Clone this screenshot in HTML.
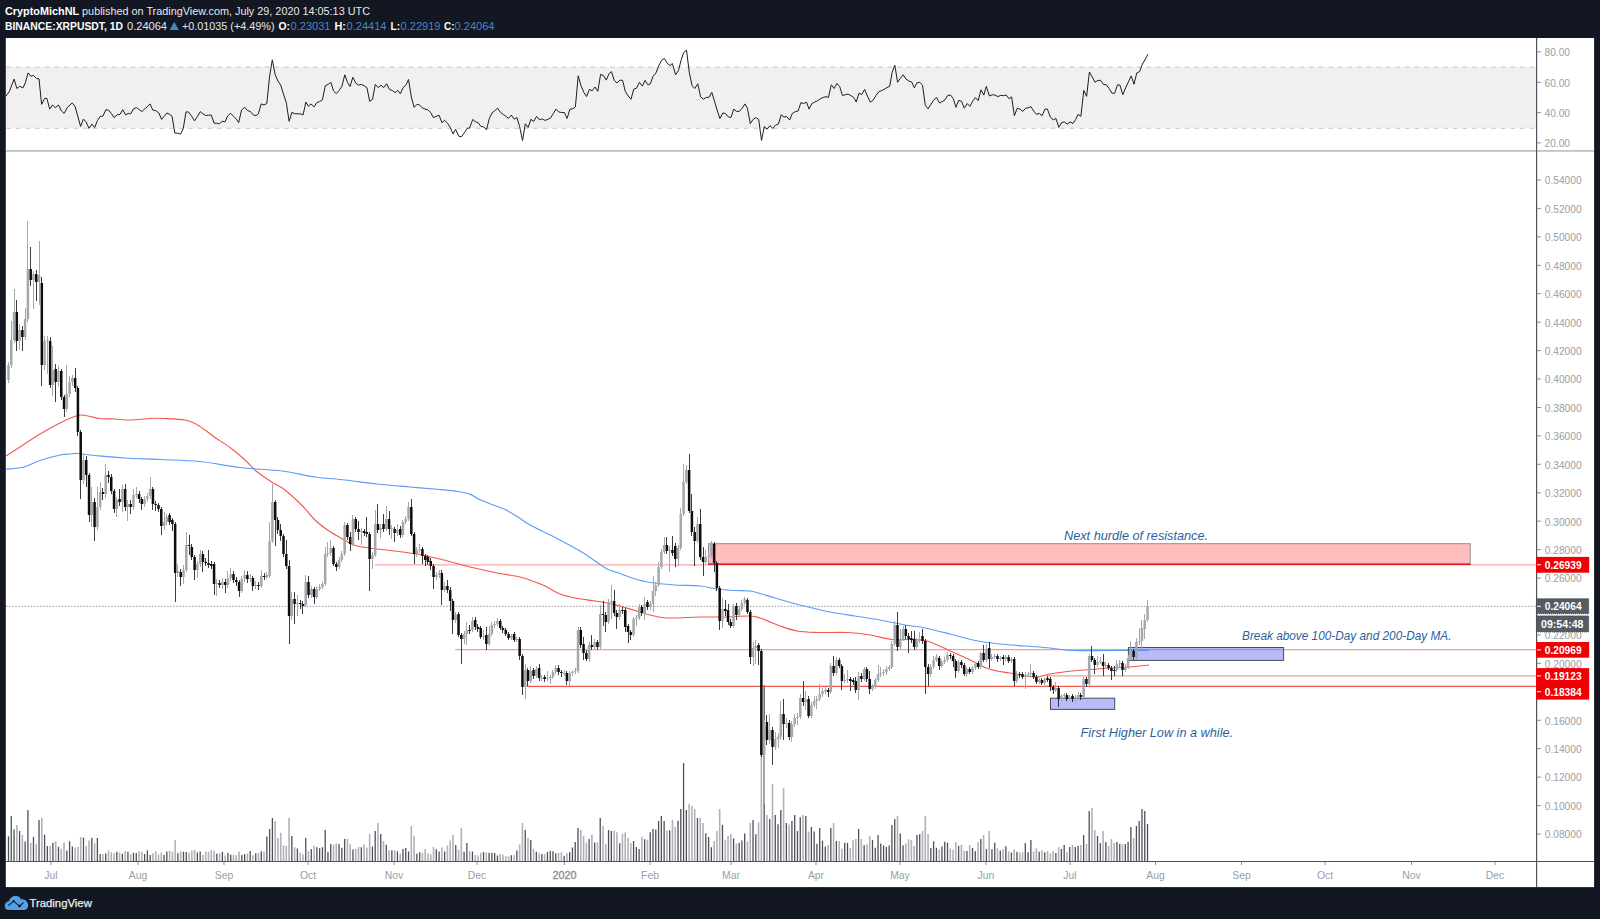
<!DOCTYPE html>
<html><head><meta charset="utf-8"><title>XRPUSDT</title><style>html,body{margin:0;padding:0;background:#131722;width:1600px;height:919px;overflow:hidden}</style></head><body><svg width="1600" height="919" viewBox="0 0 1600 919" style="position:absolute;left:0;top:0">
<rect x="0" y="0" width="1600" height="919" fill="#131722"/>
<rect x="5.8" y="38" width="1588.3" height="849.1" fill="#fff"/>
<rect x="6" y="67" width="1530" height="61.3" fill="#f0f0f3"/>
<path d="M6 67H1536M6 128.3H1536" stroke="#c3c4c9" stroke-width="1" stroke-dasharray="4.3 5.28" stroke-dashoffset="-0.5" fill="none"/>
<path d="M6.0 96.0L9.4 91.3L14.1 79.1L16.9 88.5L19.7 86.3L22.9 87.9L25.3 82.9L28.1 72.9L30.9 76.3L33.4 75.4L36.6 78.6L39.0 78.8L41.6 104.4L44.6 98.4L46.9 98.4L49.7 109.1L52.5 105.0L55.3 107.6L58.5 105.0L61.5 111.0L64.1 113.4L67.5 107.3L72.2 102.9L75.0 106.3L80.6 126.4L83.4 119.1L85.9 121.7L89.1 128.4L91.9 124.1L94.7 127.5L97.5 120.4L100.3 116.3L102.8 116.3L105.9 109.7L108.8 110.4L111.6 113.8L114.0 117.6L117.2 114.8L120.0 114.4L122.8 109.7L125.6 114.8L128.4 113.4L130.7 113.8L133.5 108.8L136.5 107.6L139.1 109.5L141.9 111.6L144.8 108.8L147.2 106.9L150.0 103.9L152.8 110.1L155.6 110.6L158.8 112.9L161.6 119.4L164.1 116.3L166.9 112.9L169.7 114.4L172.1 116.3L174.8 133.1L177.8 133.1L180.4 134.3L183.2 128.8L186.0 111.9L188.4 111.9L191.3 115.7L194.6 120.9L197.3 116.6L200.3 111.6L202.9 113.8L205.7 115.5L208.5 115.1L211.3 115.1L214.1 123.2L216.6 123.2L219.4 123.8L222.2 121.3L225.0 121.9L227.8 115.7L230.6 113.3L233.4 116.3L235.9 118.5L238.7 122.6L241.5 110.1L244.7 107.3L247.5 110.6L250.3 111.4L253.1 114.8L255.9 115.7L258.4 113.8L261.2 103.9L264.0 105.0L266.8 103.5L269.6 76.3L272.3 59.8L275.1 74.4L277.9 81.0L280.7 85.1L283.5 94.1L286.3 102.6L289.1 121.3L291.9 112.3L294.8 113.8L300.3 113.8L303.1 114.8L305.9 102.0L308.4 106.3L311.0 103.9L314.0 106.9L316.8 102.6L319.6 101.6L322.4 99.8L325.3 85.7L328.1 84.4L330.9 82.3L333.5 90.9L336.3 93.6L339.1 90.4L341.9 86.3L344.8 74.8L347.6 82.5L350.0 86.6L352.8 77.3L355.6 82.9L358.4 85.1L361.3 84.4L364.1 85.7L366.9 87.6L369.7 101.3L372.5 99.4L375.3 84.4L378.1 87.6L380.9 85.3L383.8 87.6L386.6 83.8L389.4 89.4L392.2 90.4L395.0 92.6L397.8 90.4L400.3 93.8L403.1 87.6L405.9 85.1L408.5 79.5L411.3 96.9L414.1 107.3L416.9 104.4L419.4 104.8L422.2 107.8L425.0 109.1L427.8 109.7L430.6 112.5L433.4 117.6L436.3 116.3L439.1 115.3L441.9 122.6L444.7 120.4L447.5 123.2L450.3 127.5L453.1 134.1L455.6 129.2L458.8 136.3L461.6 136.7L464.4 132.6L467.2 128.3L469.6 127.9L472.8 119.4L475.6 121.9L478.1 122.6L480.9 126.4L483.7 126.9L486.5 129.8L489.3 118.5L492.1 112.9L494.9 110.6L497.6 108.2L500.4 112.3L503.2 114.4L505.6 116.1L508.4 118.5L511.3 115.1L514.1 119.1L516.9 117.6L519.7 126.9L522.5 140.6L525.3 123.8L528.1 127.5L530.9 119.4L533.8 121.3L536.6 116.3L539.4 119.8L542.2 118.9L545.0 120.4L547.8 119.4L550.6 117.9L553.4 113.4L555.9 109.1L558.7 111.9L561.5 112.5L564.3 112.5L567.1 118.5L569.9 109.1L572.8 108.8L575.4 106.9L578.2 75.8L581.0 85.7L583.8 92.3L586.6 96.6L589.4 89.4L592.2 90.8L595.0 87.0L597.8 91.3L600.6 74.4L603.4 75.4L606.3 80.1L609.1 73.5L611.5 71.6L614.3 80.6L617.1 82.9L619.9 80.1L622.6 80.4L625.4 91.7L628.2 96.0L631.0 99.2L633.8 89.1L636.6 88.1L639.4 82.3L642.3 86.1L645.1 80.4L647.9 84.8L650.3 83.8L653.1 76.3L655.9 73.1L658.8 65.6L661.6 60.4L664.4 58.5L667.2 63.2L670.0 65.6L672.4 63.6L675.6 74.8L678.4 70.7L681.3 59.4L683.7 52.5L686.5 50.1L689.3 72.6L692.1 85.7L694.9 88.5L697.8 83.8L700.6 96.9L703.4 99.2L706.2 97.5L709.0 97.3L711.8 92.3L714.6 101.6L717.4 111.0L719.9 118.5L722.9 112.9L725.7 113.8L728.5 117.0L730.9 117.6L733.8 109.1L736.6 111.4L739.4 111.4L742.2 108.2L745.0 103.9L747.4 108.2L750.3 123.6L753.1 119.4L755.9 117.6L758.7 119.4L761.5 140.4L764.3 126.6L767.1 129.2L769.9 125.6L772.8 128.4L775.6 125.1L778.4 124.1L781.2 114.8L784.0 117.0L786.8 116.6L789.6 120.0L792.4 113.4L795.3 111.6L798.1 111.0L800.9 102.6L803.7 103.5L806.5 102.2L809.1 109.1L811.9 103.5L814.8 102.0L817.6 100.7L820.4 98.8L823.2 97.5L826.0 96.6L828.4 97.5L831.3 84.8L834.1 88.5L836.9 83.4L839.7 86.6L842.5 95.6L845.3 94.7L848.1 94.1L850.9 95.6L853.8 97.5L856.2 102.0L859.0 93.2L861.8 94.5L864.6 89.4L867.4 96.0L870.3 102.2L873.1 100.3L875.9 95.6L878.7 91.9L881.3 90.8L884.1 89.4L886.9 87.6L889.7 86.3L892.1 72.6L894.8 65.1L897.6 82.3L900.4 78.2L903.2 74.8L906.0 79.1L908.8 81.0L911.6 81.9L914.4 87.9L916.9 82.9L919.7 82.3L922.5 85.1L925.3 105.4L928.1 108.8L930.9 104.4L933.8 99.8L936.6 97.5L939.4 102.9L942.2 101.6L945.0 99.8L947.8 95.4L950.6 95.1L953.4 98.8L955.9 107.3L958.7 100.3L961.5 101.3L964.3 108.2L967.1 103.5L969.9 106.3L972.8 101.1L975.4 97.5L978.2 100.7L981.0 89.8L983.8 95.1L986.3 86.3L989.4 96.0L992.3 94.7L995.1 95.1L997.9 96.6L1000.7 95.4L1003.5 95.6L1006.3 95.1L1009.1 98.8L1011.6 96.9L1014.4 115.7L1017.2 108.2L1020.0 109.1L1022.8 111.4L1025.6 108.2L1028.4 107.8L1030.9 106.7L1033.7 111.0L1036.5 114.4L1039.3 113.4L1042.1 115.7L1044.9 109.1L1047.4 109.1L1050.4 117.2L1053.2 119.8L1056.0 118.5L1058.8 127.3L1061.6 122.6L1064.4 121.9L1067.3 124.1L1070.1 121.9L1072.9 123.6L1075.7 119.4L1078.1 114.4L1080.9 116.3L1083.8 90.4L1086.6 96.4L1089.4 72.0L1092.2 76.9L1095.0 82.3L1097.8 80.4L1100.6 80.4L1103.4 84.4L1106.3 84.8L1109.1 88.5L1111.9 93.2L1114.7 93.2L1117.5 84.8L1119.9 85.1L1122.8 94.7L1125.6 87.9L1128.4 81.9L1131.2 75.9L1134.0 84.2L1136.8 72.9L1139.6 71.6L1142.4 64.1L1145.3 59.1L1147.9 54.2" stroke="#1e1e1e" stroke-width="1" fill="none" stroke-linejoin="round"/>
<rect x="6" y="150" width="1588" height="1.8" fill="#c2c3c7"/>
<path d="M7.82 836.18h1.3V861h-1.3zM10.60 816.00h1.3V861h-1.3zM13.38 829.45h1.3V861h-1.3zM18.93 831.09h1.3V861h-1.3zM24.49 841.50h1.3V861h-1.3zM27.27 810.00h1.3V861h-1.3zM32.82 837.06h1.3V861h-1.3zM38.38 820.00h1.3V861h-1.3zM43.94 834.72h1.3V861h-1.3zM46.71 845.97h1.3V861h-1.3zM52.27 842.76h1.3V861h-1.3zM57.83 846.74h1.3V861h-1.3zM66.16 850.53h1.3V861h-1.3zM68.94 841.24h1.3V861h-1.3zM71.72 846.47h1.3V861h-1.3zM82.83 837.39h1.3V861h-1.3zM91.17 838.00h1.3V861h-1.3zM96.72 838.00h1.3V861h-1.3zM99.50 854.10h1.3V861h-1.3zM105.06 853.42h1.3V861h-1.3zM116.17 851.68h1.3V861h-1.3zM121.73 853.63h1.3V861h-1.3zM127.28 851.72h1.3V861h-1.3zM132.84 852.72h1.3V861h-1.3zM135.62 853.04h1.3V861h-1.3zM143.95 854.10h1.3V861h-1.3zM146.73 850.30h1.3V861h-1.3zM149.51 854.91h1.3V861h-1.3zM163.40 855.11h1.3V861h-1.3zM166.18 851.46h1.3V861h-1.3zM177.29 853.34h1.3V861h-1.3zM182.85 851.77h1.3V861h-1.3zM185.62 851.89h1.3V861h-1.3zM196.74 852.61h1.3V861h-1.3zM199.52 851.57h1.3V861h-1.3zM216.19 853.87h1.3V861h-1.3zM221.74 851.81h1.3V861h-1.3zM227.30 853.01h1.3V861h-1.3zM230.08 854.64h1.3V861h-1.3zM241.19 854.94h1.3V861h-1.3zM243.97 854.33h1.3V861h-1.3zM249.52 851.07h1.3V861h-1.3zM255.08 853.37h1.3V861h-1.3zM260.64 851.16h1.3V861h-1.3zM266.19 836.42h1.3V861h-1.3zM268.97 829.00h1.3V861h-1.3zM271.75 818.00h1.3V861h-1.3zM291.20 836.00h1.3V861h-1.3zM296.75 848.52h1.3V861h-1.3zM305.09 838.00h1.3V861h-1.3zM310.64 849.09h1.3V861h-1.3zM316.20 847.23h1.3V861h-1.3zM318.98 848.25h1.3V861h-1.3zM321.76 847.13h1.3V861h-1.3zM324.53 830.00h1.3V861h-1.3zM327.31 851.66h1.3V861h-1.3zM330.09 843.89h1.3V861h-1.3zM338.43 844.02h1.3V861h-1.3zM341.20 847.65h1.3V861h-1.3zM343.98 839.00h1.3V861h-1.3zM352.32 849.54h1.3V861h-1.3zM360.65 847.20h1.3V861h-1.3zM371.76 846.52h1.3V861h-1.3zM374.54 831.00h1.3V861h-1.3zM380.10 834.00h1.3V861h-1.3zM385.66 844.76h1.3V861h-1.3zM391.21 850.21h1.3V861h-1.3zM396.77 851.22h1.3V861h-1.3zM402.32 848.98h1.3V861h-1.3zM405.10 848.04h1.3V861h-1.3zM407.88 851.47h1.3V861h-1.3zM416.22 853.84h1.3V861h-1.3zM418.99 852.27h1.3V861h-1.3zM435.66 849.19h1.3V861h-1.3zM438.44 851.51h1.3V861h-1.3zM444.00 851.39h1.3V861h-1.3zM455.11 845.05h1.3V861h-1.3zM463.44 851.71h1.3V861h-1.3zM466.22 843.00h1.3V861h-1.3zM471.78 851.42h1.3V861h-1.3zM482.89 851.97h1.3V861h-1.3zM488.45 852.78h1.3V861h-1.3zM491.23 852.73h1.3V861h-1.3zM494.01 853.08h1.3V861h-1.3zM496.78 855.42h1.3V861h-1.3zM510.67 855.18h1.3V861h-1.3zM516.23 850.61h1.3V861h-1.3zM524.57 830.00h1.3V861h-1.3zM530.12 840.00h1.3V861h-1.3zM535.68 851.72h1.3V861h-1.3zM541.23 854.10h1.3V861h-1.3zM546.79 852.02h1.3V861h-1.3zM549.57 850.72h1.3V861h-1.3zM552.35 851.27h1.3V861h-1.3zM555.13 853.36h1.3V861h-1.3zM563.46 855.79h1.3V861h-1.3zM569.02 852.28h1.3V861h-1.3zM571.79 847.58h1.3V861h-1.3zM574.57 841.90h1.3V861h-1.3zM577.35 828.00h1.3V861h-1.3zM588.46 839.00h1.3V861h-1.3zM594.02 842.41h1.3V861h-1.3zM599.58 818.00h1.3V861h-1.3zM607.91 830.00h1.3V861h-1.3zM610.69 831.00h1.3V861h-1.3zM619.02 843.35h1.3V861h-1.3zM632.92 841.07h1.3V861h-1.3zM635.69 847.01h1.3V861h-1.3zM638.47 848.97h1.3V861h-1.3zM644.03 839.36h1.3V861h-1.3zM649.58 832.37h1.3V861h-1.3zM652.36 829.00h1.3V861h-1.3zM655.14 829.62h1.3V861h-1.3zM657.92 821.00h1.3V861h-1.3zM660.70 816.00h1.3V861h-1.3zM663.48 821.00h1.3V861h-1.3zM669.03 830.26h1.3V861h-1.3zM677.37 820.71h1.3V861h-1.3zM680.14 809.00h1.3V861h-1.3zM682.92 763.00h1.3V861h-1.3zM685.70 810.00h1.3V861h-1.3zM696.81 818.00h1.3V861h-1.3zM705.15 833.37h1.3V861h-1.3zM707.93 836.96h1.3V861h-1.3zM710.70 847.22h1.3V861h-1.3zM721.82 825.00h1.3V861h-1.3zM732.93 838.46h1.3V861h-1.3zM738.49 842.67h1.3V861h-1.3zM741.26 840.48h1.3V861h-1.3zM744.04 833.59h1.3V861h-1.3zM752.38 820.00h1.3V861h-1.3zM755.16 834.17h1.3V861h-1.3zM763.49 685.00h1.3V861h-1.3zM769.05 819.00h1.3V861h-1.3zM774.60 815.00h1.3V861h-1.3zM777.38 824.34h1.3V861h-1.3zM780.16 810.00h1.3V861h-1.3zM785.72 823.00h1.3V861h-1.3zM791.27 821.00h1.3V861h-1.3zM794.05 815.12h1.3V861h-1.3zM796.83 831.00h1.3V861h-1.3zM799.61 817.34h1.3V861h-1.3zM805.16 816.00h1.3V861h-1.3zM810.72 827.02h1.3V861h-1.3zM813.50 831.48h1.3V861h-1.3zM816.28 843.72h1.3V861h-1.3zM819.05 828.00h1.3V861h-1.3zM821.83 840.75h1.3V861h-1.3zM824.61 846.56h1.3V861h-1.3zM830.17 828.00h1.3V861h-1.3zM835.72 841.10h1.3V861h-1.3zM844.06 842.63h1.3V861h-1.3zM846.84 842.93h1.3V861h-1.3zM857.95 829.00h1.3V861h-1.3zM863.51 845.23h1.3V861h-1.3zM871.84 840.08h1.3V861h-1.3zM874.62 847.69h1.3V861h-1.3zM877.40 835.00h1.3V861h-1.3zM880.17 843.49h1.3V861h-1.3zM882.95 845.47h1.3V861h-1.3zM885.73 847.08h1.3V861h-1.3zM888.51 845.59h1.3V861h-1.3zM891.29 825.00h1.3V861h-1.3zM894.07 819.00h1.3V861h-1.3zM899.62 833.42h1.3V861h-1.3zM902.40 845.18h1.3V861h-1.3zM916.29 835.00h1.3V861h-1.3zM919.07 834.33h1.3V861h-1.3zM930.18 847.94h1.3V861h-1.3zM932.96 841.21h1.3V861h-1.3zM935.74 847.84h1.3V861h-1.3zM941.30 846.53h1.3V861h-1.3zM944.07 841.73h1.3V861h-1.3zM946.85 842.82h1.3V861h-1.3zM957.96 845.87h1.3V861h-1.3zM966.30 851.10h1.3V861h-1.3zM971.86 847.91h1.3V861h-1.3zM974.63 851.19h1.3V861h-1.3zM980.19 839.00h1.3V861h-1.3zM985.75 849.00h1.3V861h-1.3zM991.30 849.33h1.3V861h-1.3zM994.08 842.64h1.3V861h-1.3zM999.64 850.56h1.3V861h-1.3zM1005.19 846.15h1.3V861h-1.3zM1010.75 852.40h1.3V861h-1.3zM1016.31 851.68h1.3V861h-1.3zM1024.64 843.00h1.3V861h-1.3zM1027.42 852.17h1.3V861h-1.3zM1030.20 840.00h1.3V861h-1.3zM1038.53 851.76h1.3V861h-1.3zM1044.09 852.34h1.3V861h-1.3zM1055.20 853.04h1.3V861h-1.3zM1060.76 849.00h1.3V861h-1.3zM1063.54 845.00h1.3V861h-1.3zM1069.09 847.00h1.3V861h-1.3zM1074.65 847.00h1.3V861h-1.3zM1077.43 846.00h1.3V861h-1.3zM1082.98 835.00h1.3V861h-1.3zM1088.54 811.00h1.3V861h-1.3zM1096.87 836.00h1.3V861h-1.3zM1099.65 843.00h1.3V861h-1.3zM1105.21 842.00h1.3V861h-1.3zM1116.32 842.00h1.3V861h-1.3zM1119.10 844.00h1.3V861h-1.3zM1124.66 844.00h1.3V861h-1.3zM1127.43 842.00h1.3V861h-1.3zM1130.21 827.00h1.3V861h-1.3zM1135.77 826.00h1.3V861h-1.3zM1138.55 821.00h1.3V861h-1.3zM1141.33 809.00h1.3V861h-1.3zM1144.10 811.00h1.3V861h-1.3zM1146.88 824.00h1.3V861h-1.3z" fill="#4d5058"/>
<path d="M16.00 825.00h1.6V861h-1.6zM21.56 835.04h1.6V861h-1.6zM29.90 843.08h1.6V861h-1.6zM35.45 843.75h1.6V861h-1.6zM41.01 818.00h1.6V861h-1.6zM49.34 845.96h1.6V861h-1.6zM54.90 841.28h1.6V861h-1.6zM60.46 848.80h1.6V861h-1.6zM63.23 842.49h1.6V861h-1.6zM74.35 847.39h1.6V861h-1.6zM77.12 847.00h1.6V861h-1.6zM79.90 837.00h1.6V861h-1.6zM85.46 845.65h1.6V861h-1.6zM88.24 840.44h1.6V861h-1.6zM93.79 843.16h1.6V861h-1.6zM102.13 854.23h1.6V861h-1.6zM107.69 850.61h1.6V861h-1.6zM110.46 852.32h1.6V861h-1.6zM113.24 853.14h1.6V861h-1.6zM118.80 852.61h1.6V861h-1.6zM124.35 851.01h1.6V861h-1.6zM129.91 854.33h1.6V861h-1.6zM138.25 851.13h1.6V861h-1.6zM141.02 851.82h1.6V861h-1.6zM152.14 853.21h1.6V861h-1.6zM154.91 851.27h1.6V861h-1.6zM157.69 854.57h1.6V861h-1.6zM160.47 852.62h1.6V861h-1.6zM168.81 850.83h1.6V861h-1.6zM171.58 851.86h1.6V861h-1.6zM174.36 840.00h1.6V861h-1.6zM179.92 851.15h1.6V861h-1.6zM188.25 852.63h1.6V861h-1.6zM191.03 850.46h1.6V861h-1.6zM193.81 849.90h1.6V861h-1.6zM202.14 855.01h1.6V861h-1.6zM204.92 851.42h1.6V861h-1.6zM207.70 851.76h1.6V861h-1.6zM210.48 849.86h1.6V861h-1.6zM213.26 850.86h1.6V861h-1.6zM218.81 853.34h1.6V861h-1.6zM224.37 855.39h1.6V861h-1.6zM232.70 854.94h1.6V861h-1.6zM235.48 855.27h1.6V861h-1.6zM238.26 851.47h1.6V861h-1.6zM246.60 853.59h1.6V861h-1.6zM252.15 855.29h1.6V861h-1.6zM257.71 852.87h1.6V861h-1.6zM263.26 851.53h1.6V861h-1.6zM274.38 821.00h1.6V861h-1.6zM277.16 838.00h1.6V861h-1.6zM279.93 832.73h1.6V861h-1.6zM282.71 845.33h1.6V861h-1.6zM285.49 845.95h1.6V861h-1.6zM288.27 818.00h1.6V861h-1.6zM293.82 847.20h1.6V861h-1.6zM299.38 852.77h1.6V861h-1.6zM302.16 854.18h1.6V861h-1.6zM307.72 850.96h1.6V861h-1.6zM313.27 845.63h1.6V861h-1.6zM332.72 844.71h1.6V861h-1.6zM335.50 843.57h1.6V861h-1.6zM346.61 839.00h1.6V861h-1.6zM349.39 843.96h1.6V861h-1.6zM354.94 849.10h1.6V861h-1.6zM357.72 847.09h1.6V861h-1.6zM363.28 844.61h1.6V861h-1.6zM366.06 847.75h1.6V861h-1.6zM368.84 834.00h1.6V861h-1.6zM377.17 823.00h1.6V861h-1.6zM382.73 841.03h1.6V861h-1.6zM388.28 850.27h1.6V861h-1.6zM393.84 850.36h1.6V861h-1.6zM399.40 853.70h1.6V861h-1.6zM410.51 826.00h1.6V861h-1.6zM413.29 836.00h1.6V861h-1.6zM421.62 852.78h1.6V861h-1.6zM424.40 849.11h1.6V861h-1.6zM427.18 853.45h1.6V861h-1.6zM429.96 854.20h1.6V861h-1.6zM432.73 846.97h1.6V861h-1.6zM441.07 847.40h1.6V861h-1.6zM446.63 845.87h1.6V861h-1.6zM449.40 840.49h1.6V861h-1.6zM452.18 835.00h1.6V861h-1.6zM457.74 849.75h1.6V861h-1.6zM460.52 828.00h1.6V861h-1.6zM468.85 851.36h1.6V861h-1.6zM474.41 854.95h1.6V861h-1.6zM477.19 855.44h1.6V861h-1.6zM479.96 852.76h1.6V861h-1.6zM485.52 852.57h1.6V861h-1.6zM499.41 854.09h1.6V861h-1.6zM502.19 854.83h1.6V861h-1.6zM504.97 856.32h1.6V861h-1.6zM507.75 856.32h1.6V861h-1.6zM513.30 855.27h1.6V861h-1.6zM518.86 844.40h1.6V861h-1.6zM521.64 823.00h1.6V861h-1.6zM527.19 837.99h1.6V861h-1.6zM532.75 848.82h1.6V861h-1.6zM538.31 853.30h1.6V861h-1.6zM543.86 854.20h1.6V861h-1.6zM557.75 852.66h1.6V861h-1.6zM560.53 852.14h1.6V861h-1.6zM566.09 853.22h1.6V861h-1.6zM579.98 830.00h1.6V861h-1.6zM582.76 836.00h1.6V861h-1.6zM585.54 842.60h1.6V861h-1.6zM591.09 834.42h1.6V861h-1.6zM596.65 842.57h1.6V861h-1.6zM602.20 826.00h1.6V861h-1.6zM604.98 844.32h1.6V861h-1.6zM613.32 830.41h1.6V861h-1.6zM616.10 832.27h1.6V861h-1.6zM621.65 833.80h1.6V861h-1.6zM624.43 832.51h1.6V861h-1.6zM627.21 837.99h1.6V861h-1.6zM629.99 842.94h1.6V861h-1.6zM641.10 836.80h1.6V861h-1.6zM646.66 839.69h1.6V861h-1.6zM666.10 830.52h1.6V861h-1.6zM671.66 819.78h1.6V861h-1.6zM674.44 826.76h1.6V861h-1.6zM688.33 804.00h1.6V861h-1.6zM691.11 806.00h1.6V861h-1.6zM693.89 809.00h1.6V861h-1.6zM699.44 817.75h1.6V861h-1.6zM702.22 823.00h1.6V861h-1.6zM713.33 841.05h1.6V861h-1.6zM716.11 831.00h1.6V861h-1.6zM718.89 809.00h1.6V861h-1.6zM724.45 839.79h1.6V861h-1.6zM727.22 836.11h1.6V861h-1.6zM730.00 833.94h1.6V861h-1.6zM735.56 843.39h1.6V861h-1.6zM746.67 841.61h1.6V861h-1.6zM749.45 823.00h1.6V861h-1.6zM757.78 822.49h1.6V861h-1.6zM760.56 745.00h1.6V861h-1.6zM766.12 815.00h1.6V861h-1.6zM771.68 784.00h1.6V861h-1.6zM782.79 788.00h1.6V861h-1.6zM788.34 824.40h1.6V861h-1.6zM802.24 815.00h1.6V861h-1.6zM807.79 831.47h1.6V861h-1.6zM827.24 845.01h1.6V861h-1.6zM832.80 823.00h1.6V861h-1.6zM838.35 840.94h1.6V861h-1.6zM841.13 848.85h1.6V861h-1.6zM849.46 848.37h1.6V861h-1.6zM852.24 840.10h1.6V861h-1.6zM855.02 839.07h1.6V861h-1.6zM860.58 839.06h1.6V861h-1.6zM866.13 844.16h1.6V861h-1.6zM868.91 836.00h1.6V861h-1.6zM896.69 816.00h1.6V861h-1.6zM905.03 843.55h1.6V861h-1.6zM907.81 839.13h1.6V861h-1.6zM910.59 840.09h1.6V861h-1.6zM913.36 845.90h1.6V861h-1.6zM921.70 830.88h1.6V861h-1.6zM924.48 816.00h1.6V861h-1.6zM927.25 834.00h1.6V861h-1.6zM938.37 849.41h1.6V861h-1.6zM949.48 848.54h1.6V861h-1.6zM952.26 849.72h1.6V861h-1.6zM955.04 842.34h1.6V861h-1.6zM960.59 844.77h1.6V861h-1.6zM963.37 850.70h1.6V861h-1.6zM968.93 845.35h1.6V861h-1.6zM977.26 842.33h1.6V861h-1.6zM982.82 835.00h1.6V861h-1.6zM988.37 831.00h1.6V861h-1.6zM996.71 848.25h1.6V861h-1.6zM1002.27 848.96h1.6V861h-1.6zM1007.82 851.29h1.6V861h-1.6zM1013.38 849.44h1.6V861h-1.6zM1018.93 852.70h1.6V861h-1.6zM1021.71 852.37h1.6V861h-1.6zM1032.83 851.53h1.6V861h-1.6zM1035.60 848.32h1.6V861h-1.6zM1041.16 850.15h1.6V861h-1.6zM1046.72 850.93h1.6V861h-1.6zM1049.50 853.27h1.6V861h-1.6zM1052.27 851.35h1.6V861h-1.6zM1057.83 847.21h1.6V861h-1.6zM1066.16 852.00h1.6V861h-1.6zM1071.72 845.00h1.6V861h-1.6zM1080.06 845.00h1.6V861h-1.6zM1085.61 844.00h1.6V861h-1.6zM1091.17 808.00h1.6V861h-1.6zM1093.95 830.00h1.6V861h-1.6zM1102.28 831.00h1.6V861h-1.6zM1107.84 846.00h1.6V861h-1.6zM1110.62 839.00h1.6V861h-1.6zM1113.39 843.00h1.6V861h-1.6zM1121.73 844.00h1.6V861h-1.6zM1132.84 838.00h1.6V861h-1.6z" fill="#b0b2b8"/>
<path d="M375 564.9H1536" stroke="#f9a7a3" stroke-width="1.3"/>
<path d="M455 649.7H1536" stroke="#f89c95" stroke-width="1.3"/>
<path d="M1046 675.9H1536" stroke="#f89c95" stroke-width="1.3"/>
<path d="M527 686.3H1536" stroke="#f4574c" stroke-width="1.3"/>
<path d="M6 606.3H1536" stroke="#8f9299" stroke-width="1" stroke-dasharray="1.4 1.7"/>
<rect x="708.5" y="543.7" width="761.7" height="20.3" fill="#ff2326" fill-opacity="0.3" stroke="#909090" stroke-width="1"/>
<path d="M708 564.3H1470.6" stroke="#e0202a" stroke-width="1.5"/>
<path d="M6.0 456.0C8.3 454.5 14.3 450.7 20.0 447.0C25.7 443.3 33.3 438.0 40.0 434.0C46.7 430.0 53.7 426.1 60.0 423.0C66.3 419.9 73.3 416.7 78.0 415.5C82.7 414.3 84.3 415.5 88.0 416.0C91.7 416.5 95.5 418.0 100.0 418.5C104.5 419.0 110.0 418.8 115.0 419.0C120.0 419.2 124.2 420.1 130.0 420.0C135.8 419.9 144.2 418.8 150.0 418.5C155.8 418.2 159.2 418.2 165.0 418.5C170.8 418.8 180.0 419.2 185.0 420.0C190.0 420.8 191.7 421.8 195.0 423.5C198.3 425.2 201.7 427.7 205.0 430.0C208.3 432.3 210.8 434.6 215.0 437.5C219.2 440.4 225.0 443.8 230.0 447.5C235.0 451.2 240.8 456.2 245.0 460.0C249.2 463.8 252.5 467.7 255.0 470.0C257.5 472.3 257.1 471.9 260.0 474.0C262.9 476.1 268.3 479.8 272.5 482.5C276.7 485.2 280.0 486.1 285.0 490.0C290.0 493.9 297.5 501.0 302.5 506.0C307.5 511.0 310.8 516.0 315.0 520.0C319.2 524.0 323.3 527.1 327.5 530.0C331.7 532.9 335.8 535.1 340.0 537.5C344.2 539.9 348.3 542.8 352.5 544.5C356.7 546.2 358.8 546.5 365.0 547.5C371.2 548.5 381.7 549.5 390.0 550.5C398.3 551.5 406.7 552.4 415.0 553.8C423.3 555.2 430.8 556.8 440.0 559.0C449.2 561.2 460.8 564.8 470.0 567.0C479.2 569.2 486.7 570.8 495.0 572.5C503.3 574.2 513.3 575.4 520.0 577.0C526.7 578.6 530.8 580.5 535.0 582.0C539.2 583.5 540.8 584.0 545.0 586.0C549.2 588.0 555.0 592.0 560.0 594.0C565.0 596.0 569.2 596.8 575.0 598.0C580.8 599.2 588.8 600.0 595.0 601.0C601.2 602.0 607.0 602.9 612.0 604.0C617.0 605.1 620.7 606.2 625.0 607.5C629.3 608.8 633.8 610.2 638.0 611.5C642.2 612.8 646.0 614.0 650.0 615.0C654.0 616.0 657.8 617.0 662.0 617.5C666.2 618.0 668.7 618.1 675.0 618.0C681.3 617.9 691.7 617.2 700.0 617.0C708.3 616.8 716.7 617.2 725.0 617.0C733.3 616.8 744.2 615.8 750.0 616.0C755.8 616.2 756.7 617.0 760.0 618.0C763.3 619.0 766.7 620.7 770.0 622.0C773.3 623.3 775.5 624.5 780.0 626.0C784.5 627.5 790.8 629.9 797.0 631.0C803.2 632.1 808.7 632.2 817.0 632.5C825.3 632.8 838.2 632.1 847.0 632.5C855.8 632.9 862.5 633.8 870.0 635.0C877.5 636.2 885.3 638.8 892.0 639.5C898.7 640.2 904.5 639.3 910.0 639.5C915.5 639.7 920.7 639.7 925.0 640.5C929.3 641.3 932.3 643.0 936.0 644.5C939.7 646.0 942.2 647.3 947.0 649.5C951.8 651.7 958.7 654.5 965.0 657.5C971.3 660.5 979.7 665.2 985.0 667.5C990.3 669.8 992.8 670.1 997.0 671.0C1001.2 671.9 1003.7 672.0 1010.0 673.0C1016.3 674.0 1028.3 676.8 1035.0 677.0C1041.7 677.2 1043.8 675.0 1050.0 674.0C1056.2 673.0 1064.2 671.8 1072.0 671.0C1079.8 670.2 1090.7 669.5 1097.0 669.0C1103.3 668.5 1104.5 668.3 1110.0 668.0C1115.5 667.7 1123.5 667.5 1130.0 667.0C1136.5 666.5 1145.8 665.3 1149.0 665.0" stroke="#f0584c" stroke-width="1.1" fill="none"/>
<path d="M6.0 469.2C9.0 468.8 18.3 468.4 24.0 467.0C29.7 465.6 34.0 462.5 40.0 460.5C46.0 458.5 55.0 456.1 60.0 455.0C65.0 453.9 67.0 454.2 70.0 454.0C73.0 453.8 73.8 453.2 78.0 453.5C82.2 453.8 87.2 454.8 95.0 455.5C102.8 456.2 114.2 457.3 125.0 458.0C135.8 458.7 147.5 458.9 160.0 459.5C172.5 460.1 186.7 460.2 200.0 461.5C213.3 462.8 226.3 465.9 240.0 467.5C253.7 469.1 269.5 469.4 282.0 471.0C294.5 472.6 304.5 475.5 315.0 477.0C325.5 478.5 334.7 478.8 345.0 480.0C355.3 481.2 366.2 482.8 377.0 484.0C387.8 485.2 399.5 486.1 410.0 487.0C420.5 487.9 432.0 488.8 440.0 489.5C448.0 490.2 452.8 490.6 458.0 491.5C463.2 492.4 467.5 493.3 471.0 494.6C474.5 495.9 475.5 497.7 479.0 499.3C482.5 500.9 487.7 502.8 492.0 504.5C496.3 506.2 500.7 507.4 505.0 509.5C509.3 511.6 513.8 514.4 518.0 517.0C522.2 519.6 523.8 521.6 530.0 525.0C536.2 528.4 546.7 533.2 555.0 537.5C563.3 541.8 573.3 547.1 580.0 551.0C586.7 554.9 590.5 558.0 595.0 561.0C599.5 564.0 602.8 566.9 607.0 569.0C611.2 571.1 615.8 572.0 620.0 573.5C624.2 575.0 627.0 576.5 632.0 578.0C637.0 579.5 642.8 581.3 650.0 582.5C657.2 583.7 666.7 584.4 675.0 585.0C683.3 585.6 693.0 585.3 700.0 586.0C707.0 586.7 711.2 588.2 717.0 589.0C722.8 589.8 729.5 590.2 735.0 590.5C740.5 590.8 745.5 590.4 750.0 591.0C754.5 591.6 757.8 592.8 762.0 594.0C766.2 595.2 768.7 596.2 775.0 598.0C781.3 599.8 790.8 602.7 800.0 605.0C809.2 607.3 820.8 610.2 830.0 612.0C839.2 613.8 846.7 614.7 855.0 616.0C863.3 617.3 871.7 618.5 880.0 620.0C888.3 621.5 897.5 623.7 905.0 625.0C912.5 626.3 917.5 626.5 925.0 628.0C932.5 629.5 941.7 631.9 950.0 634.0C958.3 636.1 966.7 638.8 975.0 640.5C983.3 642.2 991.7 643.1 1000.0 644.0C1008.3 644.9 1016.7 645.3 1025.0 646.0C1033.3 646.7 1042.2 647.2 1050.0 648.0C1057.8 648.8 1062.0 650.1 1072.0 650.5C1082.0 650.9 1097.2 650.5 1110.0 650.5C1122.8 650.5 1142.5 650.3 1149.0 650.3" stroke="#5b9cf6" stroke-width="1.15" fill="none"/>
<rect x="1128.4" y="647.5" width="155.2" height="12.9" fill="#6f77ef" fill-opacity="0.5" stroke="#4a4d57" stroke-width="1"/>
<rect x="1050.5" y="698.2" width="64.2" height="11.2" fill="#6f77ef" fill-opacity="0.5" stroke="#4a4d57" stroke-width="1"/>
<path d="M8.5 362.00V383.00M11.5 321.00V368.00M14.5 289.00V343.00M19.5 324.00V350.00M25.5 308.00V340.00M27.5 221.00V322.00M33.5 271.00V309.00M39.5 241.00V305.00M44.5 336.00V370.00M47.5 336.00V374.00M52.5 346.00V396.00M58.5 366.00V386.00M66.5 365.00V412.00M69.5 376.00V397.00M72.5 375.00V386.00M83.5 455.00V484.00M91.5 487.00V527.00M97.5 487.00V530.00M100.5 482.00V510.00M105.5 464.00V498.00M116.5 497.00V517.00M122.5 485.00V512.00M127.5 500.00V521.00M133.5 489.00V510.00M136.5 487.00V498.00M144.5 496.00V507.00M147.5 493.00V502.00M150.5 477.00V499.00M164.5 512.00V530.00M166.5 514.00V525.00M177.5 564.00V577.00M183.5 565.00V584.00M186.5 532.00V572.00M197.5 561.00V578.00M200.5 550.00V567.00M216.5 579.00V596.00M222.5 578.00V589.00M227.5 571.00V588.00M230.5 568.00V581.00M241.5 576.00V593.00M244.5 570.00V582.00M250.5 574.00V582.00M255.5 581.00V589.00M261.5 570.00V588.00M266.5 572.00V579.00M269.5 522.00V578.00M272.5 484.00V543.00M291.5 592.00V620.00M297.5 595.00V616.00M305.5 575.00V607.00M311.5 586.00V598.00M316.5 586.00V599.00M319.5 584.00V591.00M322.5 582.00V589.00M325.5 547.00V586.00M327.5 542.00V557.00M330.5 540.00V556.00M339.5 557.00V569.00M341.5 551.00V562.00M344.5 522.00V556.00M352.5 515.00V546.00M361.5 528.00V545.00M372.5 552.00V569.00M375.5 510.00V557.00M380.5 524.00V538.00M386.5 506.00V531.00M391.5 525.00V539.00M397.5 524.00V536.00M402.5 520.00V537.00M405.5 516.00V524.00M408.5 502.00V521.00M416.5 547.00V557.00M419.5 544.00V553.00M436.5 572.00V580.00M439.5 570.00V578.00M444.5 582.00V592.00M455.5 612.00V623.00M464.5 631.00V644.00M466.5 622.00V645.00M472.5 617.00V632.00M483.5 630.00V640.00M489.5 626.00V646.00M491.5 622.00V636.00M494.5 621.00V628.00M497.5 618.00V626.00M511.5 634.00V640.00M516.5 637.00V642.00M525.5 664.00V699.00M530.5 666.00V683.00M536.5 666.00V678.00M541.5 675.00V681.00M547.5 671.00V681.00M550.5 675.00V684.00M552.5 670.00V679.00M555.5 665.00V674.00M564.5 670.00V676.00M569.5 671.00V686.00M572.5 670.00V676.00M575.5 668.00V674.00M578.5 627.00V673.00M589.5 642.00V662.00M594.5 639.00V649.00M600.5 605.00V649.00M608.5 599.00V624.00M611.5 585.00V619.00M619.5 604.00V620.00M633.5 617.00V637.00M636.5 615.00V626.00M639.5 604.00V620.00M644.5 597.00V620.00M650.5 601.00V610.00M653.5 576.00V612.00M655.5 582.00V596.00M658.5 562.00V587.00M661.5 549.00V569.00M664.5 537.00V554.00M669.5 546.00V572.00M678.5 545.00V566.00M680.5 508.00V550.00M683.5 464.00V516.00M686.5 465.00V484.00M697.5 517.00V543.00M705.5 550.00V564.00M708.5 552.00V560.00M711.5 541.00V558.00M722.5 598.00V628.00M733.5 604.00V628.00M739.5 606.00V617.00M741.5 600.00V611.00M744.5 597.00V605.00M753.5 642.00V666.00M755.5 640.00V664.00M764.5 720.00V804.00M769.5 714.00V744.00M775.5 732.00V750.00M778.5 733.00V748.00M780.5 701.00V740.00M786.5 718.00V728.00M791.5 721.00V742.00M794.5 714.00V727.00M797.5 713.00V725.00M800.5 694.00V719.00M805.5 691.00V710.00M811.5 702.00V718.00M814.5 696.00V707.00M816.5 696.00V709.00M819.5 684.00V701.00M822.5 688.00V697.00M825.5 687.00V694.00M830.5 663.00V694.00M836.5 657.00V675.00M844.5 674.00V683.00M847.5 670.00V683.00M858.5 672.00V700.00M864.5 667.00V681.00M872.5 684.00V691.00M875.5 678.00V689.00M878.5 665.00V682.00M880.5 667.00V677.00M883.5 669.00V676.00M886.5 666.00V675.00M889.5 665.00V671.00M891.5 641.00V669.00M894.5 621.00V646.00M900.5 629.00V649.00M903.5 626.00V641.00M916.5 638.00V650.00M919.5 632.00V643.00M930.5 664.00V677.00M933.5 656.00V669.00M936.5 654.00V662.00M941.5 660.00V668.00M944.5 657.00V664.00M947.5 652.00V662.00M958.5 660.00V673.00M966.5 667.00V677.00M972.5 666.00V674.00M975.5 662.00V670.00M980.5 652.00V669.00M986.5 644.00V662.00M991.5 654.00V661.00M994.5 654.00V659.00M1000.5 656.00V661.00M1005.5 655.00V661.00M1011.5 657.00V663.00M1016.5 671.00V683.00M1025.5 672.00V689.00M1028.5 672.00V677.00M1030.5 664.00V676.00M1039.5 678.00V684.00M1044.5 677.00V685.00M1055.5 682.00V692.00M1061.5 694.00V701.00M1064.5 693.00V698.00M1069.5 695.00V701.00M1075.5 695.00V701.00M1078.5 692.00V699.00M1083.5 677.00V698.00M1089.5 654.00V686.00M1097.5 656.00V667.00M1100.5 657.00V664.00M1105.5 662.00V668.00M1116.5 660.00V672.00M1119.5 660.00V667.00M1125.5 664.00V672.00M1128.5 655.00V669.00M1130.5 641.00V660.00M1136.5 638.00V660.00M1139.5 628.00V645.00M1141.5 620.00V650.00M1144.5 614.00V639.00M1147.5 600.00V622.00" stroke="#a4a7ae" stroke-width="1" fill="none"/>
<path d="M7.22 365.00h2.5V380.00h-2.5zM10.00 340.00h2.5V365.00h-2.5zM12.78 312.00h2.5V340.00h-2.5zM18.33 330.00h2.5V341.00h-2.5zM23.89 319.00h2.5V337.00h-2.5zM26.67 269.00h2.5V319.00h-2.5zM32.22 274.00h2.5V280.00h-2.5zM37.78 275.00h2.5V282.00h-2.5zM43.34 341.00h2.5V365.00h-2.5zM46.11 340.00h2.5V341.00h-2.5zM51.67 370.00h2.5V385.00h-2.5zM57.23 371.00h2.5V382.00h-2.5zM65.56 394.00h2.5V409.00h-2.5zM68.34 382.00h2.5V394.00h-2.5zM71.12 378.00h2.5V382.00h-2.5zM82.23 460.00h2.5V480.00h-2.5zM90.57 502.00h2.5V515.00h-2.5zM96.12 507.00h2.5V527.00h-2.5zM98.90 492.00h2.5V507.00h-2.5zM104.46 475.00h2.5V494.00h-2.5zM115.57 500.00h2.5V509.00h-2.5zM121.13 489.00h2.5V502.00h-2.5zM126.68 504.00h2.5V507.00h-2.5zM132.24 495.00h2.5V507.00h-2.5zM135.02 494.00h2.5V495.00h-2.5zM143.35 499.00h2.5V504.00h-2.5zM146.13 496.00h2.5V499.00h-2.5zM148.91 489.00h2.5V496.00h-2.5zM162.80 522.00h2.5V526.00h-2.5zM165.58 517.00h2.5V522.00h-2.5zM176.69 571.00h2.5V573.00h-2.5zM182.25 570.00h2.5V577.00h-2.5zM185.02 545.00h2.5V570.00h-2.5zM196.14 564.00h2.5V570.00h-2.5zM198.92 554.00h2.5V564.00h-2.5zM215.59 583.00h2.5V584.00h-2.5zM221.14 582.00h2.5V585.00h-2.5zM226.70 578.00h2.5V585.00h-2.5zM229.48 574.00h2.5V578.00h-2.5zM240.59 579.00h2.5V591.00h-2.5zM243.37 575.00h2.5V579.00h-2.5zM248.92 578.00h2.5V579.00h-2.5zM254.48 585.00h2.5V586.00h-2.5zM260.04 576.00h2.5V586.00h-2.5zM265.59 575.00h2.5V577.00h-2.5zM268.37 541.00h2.5V576.00h-2.5zM271.15 502.00h2.5V541.00h-2.5zM290.60 599.00h2.5V616.00h-2.5zM296.15 603.00h2.5V604.00h-2.5zM304.49 582.00h2.5V605.00h-2.5zM310.04 589.00h2.5V595.00h-2.5zM315.60 589.00h2.5V597.00h-2.5zM318.38 587.00h2.5V589.00h-2.5zM321.16 584.00h2.5V587.00h-2.5zM323.93 554.00h2.5V584.00h-2.5zM326.71 553.00h2.5V554.00h-2.5zM329.49 548.00h2.5V553.00h-2.5zM337.83 560.00h2.5V567.00h-2.5zM340.60 554.00h2.5V560.00h-2.5zM343.38 525.00h2.5V554.00h-2.5zM351.72 519.00h2.5V544.00h-2.5zM360.05 531.00h2.5V532.00h-2.5zM371.16 555.00h2.5V559.00h-2.5zM373.94 524.00h2.5V555.00h-2.5zM379.50 528.00h2.5V530.00h-2.5zM385.06 519.00h2.5V529.00h-2.5zM390.61 528.00h2.5V529.00h-2.5zM396.17 530.00h2.5V533.00h-2.5zM401.72 522.00h2.5V535.00h-2.5zM404.50 519.00h2.5V522.00h-2.5zM407.28 507.00h2.5V519.00h-2.5zM415.62 550.00h2.5V554.00h-2.5zM418.39 549.00h2.5V550.00h-2.5zM435.06 575.00h2.5V577.00h-2.5zM437.84 573.00h2.5V575.00h-2.5zM443.40 586.00h2.5V590.00h-2.5zM454.51 615.00h2.5V620.00h-2.5zM462.84 634.00h2.5V639.00h-2.5zM465.62 630.00h2.5V634.00h-2.5zM471.18 621.00h2.5V630.00h-2.5zM482.29 636.00h2.5V637.00h-2.5zM487.85 634.00h2.5V644.00h-2.5zM490.63 625.00h2.5V634.00h-2.5zM493.41 624.00h2.5V625.00h-2.5zM496.18 621.00h2.5V624.00h-2.5zM510.07 636.00h2.5V638.00h-2.5zM515.63 639.00h2.5V640.00h-2.5zM523.97 670.00h2.5V687.00h-2.5zM529.52 671.00h2.5V681.00h-2.5zM535.08 669.00h2.5V676.00h-2.5zM540.63 678.00h2.5V679.00h-2.5zM546.19 678.00h2.5V679.00h-2.5zM548.97 677.00h2.5V678.00h-2.5zM551.75 672.00h2.5V677.00h-2.5zM554.53 668.00h2.5V672.00h-2.5zM562.86 673.00h2.5V674.00h-2.5zM568.42 673.00h2.5V681.00h-2.5zM571.19 672.00h2.5V673.00h-2.5zM573.97 671.00h2.5V672.00h-2.5zM576.75 630.00h2.5V671.00h-2.5zM587.86 645.00h2.5V659.00h-2.5zM593.42 642.00h2.5V647.00h-2.5zM598.98 614.00h2.5V647.00h-2.5zM607.31 602.00h2.5V622.00h-2.5zM610.09 601.00h2.5V602.00h-2.5zM618.42 610.00h2.5V617.00h-2.5zM632.32 619.00h2.5V635.00h-2.5zM635.09 618.00h2.5V619.00h-2.5zM637.87 607.00h2.5V618.00h-2.5zM643.43 604.00h2.5V613.00h-2.5zM648.98 604.00h2.5V607.00h-2.5zM651.76 591.00h2.5V604.00h-2.5zM654.54 585.00h2.5V591.00h-2.5zM657.32 567.00h2.5V585.00h-2.5zM660.10 552.00h2.5V567.00h-2.5zM662.88 545.00h2.5V552.00h-2.5zM668.43 550.00h2.5V551.00h-2.5zM676.77 548.00h2.5V559.00h-2.5zM679.54 514.00h2.5V548.00h-2.5zM682.32 482.00h2.5V514.00h-2.5zM685.10 470.00h2.5V482.00h-2.5zM696.21 524.00h2.5V541.00h-2.5zM704.55 557.00h2.5V562.00h-2.5zM707.33 556.00h2.5V557.00h-2.5zM710.10 544.00h2.5V556.00h-2.5zM721.22 609.00h2.5V621.00h-2.5zM732.33 607.00h2.5V626.00h-2.5zM737.89 609.00h2.5V615.00h-2.5zM740.66 603.00h2.5V609.00h-2.5zM743.44 599.00h2.5V603.00h-2.5zM751.78 648.00h2.5V657.00h-2.5zM754.56 646.00h2.5V648.00h-2.5zM762.89 727.00h2.5V755.00h-2.5zM768.45 730.00h2.5V740.00h-2.5zM774.00 739.00h2.5V747.00h-2.5zM776.78 737.00h2.5V739.00h-2.5zM779.56 714.00h2.5V737.00h-2.5zM785.12 723.00h2.5V724.00h-2.5zM790.67 724.00h2.5V737.00h-2.5zM793.45 718.00h2.5V724.00h-2.5zM796.23 717.00h2.5V718.00h-2.5zM799.01 698.00h2.5V717.00h-2.5zM804.56 700.00h2.5V702.00h-2.5zM810.12 705.00h2.5V716.00h-2.5zM812.90 701.00h2.5V705.00h-2.5zM815.68 699.00h2.5V701.00h-2.5zM818.45 694.00h2.5V699.00h-2.5zM821.23 691.00h2.5V694.00h-2.5zM824.01 690.00h2.5V691.00h-2.5zM829.57 666.00h2.5V692.00h-2.5zM835.12 660.00h2.5V673.00h-2.5zM843.46 680.00h2.5V681.00h-2.5zM846.24 679.00h2.5V680.00h-2.5zM857.35 676.00h2.5V690.00h-2.5zM862.91 669.00h2.5V679.00h-2.5zM871.24 687.00h2.5V689.00h-2.5zM874.02 680.00h2.5V687.00h-2.5zM876.80 674.00h2.5V680.00h-2.5zM879.57 673.00h2.5V674.00h-2.5zM882.35 672.00h2.5V673.00h-2.5zM885.13 669.00h2.5V672.00h-2.5zM887.91 667.00h2.5V669.00h-2.5zM890.69 644.00h2.5V667.00h-2.5zM893.47 625.00h2.5V644.00h-2.5zM899.02 639.00h2.5V647.00h-2.5zM901.80 629.00h2.5V639.00h-2.5zM915.69 641.00h2.5V647.00h-2.5zM918.47 639.00h2.5V641.00h-2.5zM929.58 667.00h2.5V674.00h-2.5zM932.36 660.00h2.5V667.00h-2.5zM935.14 657.00h2.5V660.00h-2.5zM940.70 662.00h2.5V666.00h-2.5zM943.47 660.00h2.5V662.00h-2.5zM946.25 655.00h2.5V660.00h-2.5zM957.36 662.00h2.5V671.00h-2.5zM965.70 669.00h2.5V674.00h-2.5zM971.26 668.00h2.5V672.00h-2.5zM974.03 664.00h2.5V668.00h-2.5zM979.59 653.00h2.5V667.00h-2.5zM985.15 649.00h2.5V660.00h-2.5zM990.70 657.00h2.5V659.00h-2.5zM993.48 656.00h2.5V657.00h-2.5zM999.04 658.00h2.5V659.00h-2.5zM1004.59 657.00h2.5V659.00h-2.5zM1010.15 659.00h2.5V661.00h-2.5zM1015.71 674.00h2.5V681.00h-2.5zM1024.04 675.00h2.5V677.00h-2.5zM1026.82 674.00h2.5V675.00h-2.5zM1029.60 673.00h2.5V674.00h-2.5zM1037.93 680.00h2.5V682.00h-2.5zM1043.49 679.00h2.5V683.00h-2.5zM1054.60 688.00h2.5V690.00h-2.5zM1060.16 696.00h2.5V699.00h-2.5zM1062.94 695.00h2.5V696.00h-2.5zM1068.49 697.00h2.5V699.00h-2.5zM1074.05 697.00h2.5V699.00h-2.5zM1076.83 695.00h2.5V697.00h-2.5zM1082.38 679.00h2.5V697.00h-2.5zM1087.94 656.00h2.5V684.00h-2.5zM1096.27 662.00h2.5V665.00h-2.5zM1099.05 661.00h2.5V662.00h-2.5zM1104.61 665.00h2.5V666.00h-2.5zM1115.72 664.00h2.5V670.00h-2.5zM1118.50 663.00h2.5V664.00h-2.5zM1124.06 667.00h2.5V670.00h-2.5zM1126.83 658.00h2.5V667.00h-2.5zM1129.61 651.00h2.5V658.00h-2.5zM1135.17 642.00h2.5V658.00h-2.5zM1137.95 641.00h2.5V642.00h-2.5zM1140.73 628.00h2.5V641.00h-2.5zM1143.50 620.00h2.5V629.00h-2.5zM1146.28 606.00h2.5V620.00h-2.5z" fill="#a4a7ae"/>
<path d="M16.5 300.00V351.00M22.5 326.00V351.00M30.5 247.00V286.00M36.5 270.00V301.00M41.5 277.00V386.00M50.5 337.00V388.00M55.5 364.00V402.00M61.5 369.00V400.00M64.5 395.00V417.00M75.5 368.00V392.00M77.5 386.00V436.00M80.5 430.00V499.00M86.5 456.00V487.00M89.5 473.00V522.00M94.5 498.00V541.00M102.5 488.00V500.00M108.5 471.00V483.00M111.5 474.00V494.00M114.5 489.00V513.00M119.5 489.00V506.00M125.5 484.00V511.00M130.5 500.00V514.00M139.5 491.00V503.00M141.5 497.00V510.00M152.5 487.00V510.00M155.5 501.00V511.00M158.5 503.00V512.00M161.5 507.00V535.00M169.5 513.00V525.00M172.5 518.00V531.00M175.5 522.00V602.00M180.5 569.00V586.00M189.5 535.00V555.00M191.5 544.00V560.00M194.5 555.00V580.00M202.5 551.00V572.00M205.5 558.00V566.00M208.5 550.00V568.00M211.5 561.00V569.00M214.5 562.00V595.00M219.5 580.00V588.00M225.5 579.00V593.00M233.5 571.00V583.00M236.5 577.00V586.00M239.5 580.00V597.00M247.5 571.00V583.00M252.5 576.00V591.00M258.5 582.00V590.00M264.5 573.00V580.00M275.5 500.00V546.00M277.5 517.00V534.00M280.5 524.00V541.00M283.5 534.00V557.00M286.5 540.00V569.00M289.5 560.00V644.00M294.5 592.00V624.00M300.5 600.00V609.00M302.5 601.00V614.00M308.5 576.00V598.00M314.5 587.00V604.00M333.5 546.00V566.00M336.5 562.00V571.00M347.5 523.00V540.00M350.5 532.00V551.00M355.5 517.00V532.00M358.5 521.00V540.00M364.5 529.00V536.00M366.5 517.00V537.00M369.5 532.00V591.00M377.5 504.00V533.00M383.5 514.00V532.00M389.5 511.00V535.00M394.5 527.00V542.00M400.5 526.00V538.00M411.5 499.00V536.00M414.5 532.00V564.00M422.5 547.00V564.00M425.5 554.00V566.00M427.5 555.00V565.00M430.5 558.00V570.00M433.5 564.00V589.00M441.5 570.00V605.00M447.5 580.00V593.00M450.5 587.00V611.00M452.5 599.00V634.00M458.5 612.00V637.00M461.5 633.00V664.00M469.5 625.00V634.00M475.5 617.00V630.00M477.5 624.00V632.00M480.5 626.00V639.00M486.5 627.00V650.00M500.5 619.00V630.00M502.5 626.00V633.00M505.5 628.00V636.00M508.5 632.00V640.00M514.5 632.00V642.00M519.5 637.00V660.00M522.5 654.00V695.00M527.5 668.00V686.00M533.5 668.00V679.00M539.5 664.00V681.00M544.5 675.00V682.00M558.5 665.00V675.00M561.5 670.00V677.00M566.5 671.00V685.00M580.5 627.00V648.00M583.5 637.00V660.00M586.5 650.00V661.00M591.5 635.00V650.00M597.5 640.00V650.00M603.5 601.00V626.00M605.5 612.00V632.00M614.5 590.00V616.00M616.5 610.00V629.00M622.5 607.00V614.00M625.5 608.00V632.00M628.5 624.00V643.00M630.5 630.00V640.00M641.5 605.00V616.00M647.5 600.00V610.00M666.5 537.00V554.00M672.5 536.00V556.00M675.5 543.00V567.00M689.5 454.00V513.00M691.5 494.00V536.00M694.5 527.00V566.00M700.5 509.00V560.00M703.5 547.00V576.00M714.5 542.00V572.00M716.5 561.00V591.00M719.5 586.00V630.00M725.5 600.00V616.00M728.5 604.00V625.00M730.5 619.00V628.00M736.5 603.00V620.00M747.5 598.00V614.00M750.5 610.00V664.00M758.5 643.00V665.00M761.5 649.00V757.00M766.5 715.00V745.00M772.5 727.00V765.00M783.5 699.00V740.00M789.5 720.00V740.00M803.5 681.00V706.00M808.5 696.00V718.00M828.5 688.00V697.00M833.5 656.00V676.00M839.5 658.00V668.00M841.5 664.00V690.00M850.5 677.00V691.00M853.5 678.00V685.00M855.5 677.00V693.00M861.5 673.00V682.00M866.5 667.00V682.00M869.5 671.00V694.00M897.5 612.00V651.00M905.5 625.00V639.00M908.5 633.00V653.00M911.5 631.00V643.00M914.5 631.00V650.00M922.5 629.00V644.00M925.5 639.00V694.00M928.5 664.00V686.00M939.5 656.00V670.00M950.5 653.00V659.00M953.5 654.00V667.00M955.5 659.00V678.00M961.5 660.00V668.00M964.5 663.00V676.00M969.5 667.00V674.00M978.5 661.00V669.00M983.5 645.00V662.00M989.5 642.00V668.00M997.5 654.00V662.00M1003.5 655.00V665.00M1008.5 655.00V663.00M1014.5 657.00V686.00M1019.5 672.00V678.00M1022.5 672.00V679.00M1033.5 671.00V679.00M1036.5 675.00V684.00M1041.5 678.00V685.00M1047.5 676.00V682.00M1050.5 677.00V691.00M1053.5 685.00V694.00M1058.5 686.00V707.00M1066.5 693.00V701.00M1072.5 694.00V702.00M1080.5 693.00V700.00M1086.5 677.00V687.00M1091.5 646.00V662.00M1094.5 658.00V674.00M1103.5 654.00V676.00M1108.5 663.00V670.00M1111.5 666.00V680.00M1114.5 666.00V676.00M1122.5 661.00V676.00M1133.5 649.00V660.00" stroke="#262626" stroke-width="0.9" fill="none"/>
<path d="M15.55 312.00h2.5V341.00h-2.5zM21.11 330.00h2.5V337.00h-2.5zM29.45 269.00h2.5V280.00h-2.5zM35.00 274.00h2.5V282.00h-2.5zM40.56 283.00h2.5V365.00h-2.5zM48.89 341.00h2.5V385.00h-2.5zM54.45 369.00h2.5V382.00h-2.5zM60.01 371.00h2.5V397.00h-2.5zM62.78 397.00h2.5V409.00h-2.5zM73.90 378.00h2.5V388.00h-2.5zM76.67 388.00h2.5V432.00h-2.5zM79.45 432.00h2.5V480.00h-2.5zM85.01 460.00h2.5V475.00h-2.5zM87.79 475.00h2.5V515.00h-2.5zM93.34 502.00h2.5V527.00h-2.5zM101.68 492.00h2.5V494.00h-2.5zM107.24 475.00h2.5V477.00h-2.5zM110.01 477.00h2.5V491.00h-2.5zM112.79 491.00h2.5V509.00h-2.5zM118.35 499.00h2.5V502.00h-2.5zM123.90 489.00h2.5V507.00h-2.5zM129.46 504.00h2.5V507.00h-2.5zM137.80 494.00h2.5V499.00h-2.5zM140.57 499.00h2.5V504.00h-2.5zM151.69 489.00h2.5V504.00h-2.5zM154.46 504.00h2.5V505.00h-2.5zM157.24 505.00h2.5V509.00h-2.5zM160.02 509.00h2.5V526.00h-2.5zM168.36 515.00h2.5V522.00h-2.5zM171.13 520.00h2.5V524.00h-2.5zM173.91 524.00h2.5V573.00h-2.5zM179.47 572.00h2.5V577.00h-2.5zM187.80 545.00h2.5V546.00h-2.5zM190.58 547.00h2.5V557.00h-2.5zM193.36 557.00h2.5V570.00h-2.5zM201.69 554.00h2.5V562.00h-2.5zM204.47 562.00h2.5V563.00h-2.5zM207.25 563.00h2.5V565.00h-2.5zM210.03 564.00h2.5V566.00h-2.5zM212.81 564.00h2.5V584.00h-2.5zM218.36 583.00h2.5V585.00h-2.5zM223.92 582.00h2.5V585.00h-2.5zM232.25 574.00h2.5V580.00h-2.5zM235.03 580.00h2.5V582.00h-2.5zM237.81 582.00h2.5V591.00h-2.5zM246.15 575.00h2.5V579.00h-2.5zM251.70 578.00h2.5V586.00h-2.5zM257.26 585.00h2.5V586.00h-2.5zM262.81 576.00h2.5V577.00h-2.5zM273.93 502.00h2.5V520.00h-2.5zM276.71 520.00h2.5V530.00h-2.5zM279.48 530.00h2.5V536.00h-2.5zM282.26 536.00h2.5V554.00h-2.5zM285.04 554.00h2.5V566.00h-2.5zM287.82 566.00h2.5V616.00h-2.5zM293.37 599.00h2.5V604.00h-2.5zM298.93 603.00h2.5V604.00h-2.5zM301.71 604.00h2.5V606.00h-2.5zM307.27 582.00h2.5V595.00h-2.5zM312.82 589.00h2.5V597.00h-2.5zM332.27 548.00h2.5V564.00h-2.5zM335.05 564.00h2.5V567.00h-2.5zM346.16 525.00h2.5V537.00h-2.5zM348.94 537.00h2.5V544.00h-2.5zM354.50 519.00h2.5V529.00h-2.5zM357.27 529.00h2.5V532.00h-2.5zM362.83 531.00h2.5V533.00h-2.5zM365.61 532.00h2.5V534.00h-2.5zM368.39 534.00h2.5V559.00h-2.5zM376.72 524.00h2.5V530.00h-2.5zM382.28 524.00h2.5V529.00h-2.5zM387.83 519.00h2.5V529.00h-2.5zM393.39 529.00h2.5V533.00h-2.5zM398.95 529.00h2.5V535.00h-2.5zM410.06 507.00h2.5V534.00h-2.5zM412.84 534.00h2.5V554.00h-2.5zM421.17 549.00h2.5V556.00h-2.5zM423.95 556.00h2.5V560.00h-2.5zM426.73 557.00h2.5V562.00h-2.5zM429.51 561.00h2.5V566.00h-2.5zM432.28 566.00h2.5V577.00h-2.5zM440.62 573.00h2.5V590.00h-2.5zM446.18 586.00h2.5V590.00h-2.5zM448.95 590.00h2.5V601.00h-2.5zM451.73 601.00h2.5V620.00h-2.5zM457.29 614.00h2.5V635.00h-2.5zM460.07 635.00h2.5V639.00h-2.5zM468.40 630.00h2.5V631.00h-2.5zM473.96 620.00h2.5V627.00h-2.5zM476.74 627.00h2.5V629.00h-2.5zM479.51 628.00h2.5V637.00h-2.5zM485.07 635.00h2.5V644.00h-2.5zM498.96 621.00h2.5V628.00h-2.5zM501.74 628.00h2.5V630.00h-2.5zM504.52 630.00h2.5V634.00h-2.5zM507.30 634.00h2.5V638.00h-2.5zM512.85 634.00h2.5V640.00h-2.5zM518.41 639.00h2.5V656.00h-2.5zM521.19 656.00h2.5V687.00h-2.5zM526.74 670.00h2.5V681.00h-2.5zM532.30 670.00h2.5V676.00h-2.5zM537.86 668.00h2.5V678.00h-2.5zM543.41 677.00h2.5V679.00h-2.5zM557.30 668.00h2.5V672.00h-2.5zM560.08 672.00h2.5V673.00h-2.5zM565.64 673.00h2.5V681.00h-2.5zM579.53 630.00h2.5V645.00h-2.5zM582.31 644.00h2.5V653.00h-2.5zM585.09 653.00h2.5V659.00h-2.5zM590.64 645.00h2.5V647.00h-2.5zM596.20 642.00h2.5V647.00h-2.5zM601.75 614.00h2.5V615.00h-2.5zM604.53 615.00h2.5V622.00h-2.5zM612.87 601.00h2.5V613.00h-2.5zM615.65 613.00h2.5V617.00h-2.5zM621.20 610.00h2.5V611.00h-2.5zM623.98 610.00h2.5V627.00h-2.5zM626.76 626.00h2.5V632.00h-2.5zM629.54 632.00h2.5V635.00h-2.5zM640.65 607.00h2.5V613.00h-2.5zM646.21 602.00h2.5V607.00h-2.5zM665.65 545.00h2.5V551.00h-2.5zM671.21 550.00h2.5V553.00h-2.5zM673.99 546.00h2.5V559.00h-2.5zM687.88 470.00h2.5V511.00h-2.5zM690.66 511.00h2.5V532.00h-2.5zM693.44 532.00h2.5V541.00h-2.5zM698.99 524.00h2.5V557.00h-2.5zM701.77 557.00h2.5V562.00h-2.5zM712.88 544.00h2.5V563.00h-2.5zM715.66 563.00h2.5V588.00h-2.5zM718.44 588.00h2.5V621.00h-2.5zM724.00 609.00h2.5V611.00h-2.5zM726.77 610.00h2.5V622.00h-2.5zM729.55 622.00h2.5V626.00h-2.5zM735.11 606.00h2.5V615.00h-2.5zM746.22 600.00h2.5V612.00h-2.5zM749.00 612.00h2.5V657.00h-2.5zM757.33 645.00h2.5V651.00h-2.5zM760.11 651.00h2.5V755.00h-2.5zM765.67 722.00h2.5V740.00h-2.5zM771.23 730.00h2.5V747.00h-2.5zM782.34 714.00h2.5V724.00h-2.5zM787.89 723.00h2.5V737.00h-2.5zM801.79 698.00h2.5V702.00h-2.5zM807.34 699.00h2.5V716.00h-2.5zM826.79 690.00h2.5V692.00h-2.5zM832.35 666.00h2.5V673.00h-2.5zM837.90 660.00h2.5V666.00h-2.5zM840.68 666.00h2.5V681.00h-2.5zM849.01 679.00h2.5V681.00h-2.5zM851.79 680.00h2.5V682.00h-2.5zM854.57 681.00h2.5V690.00h-2.5zM860.13 676.00h2.5V679.00h-2.5zM865.68 669.00h2.5V679.00h-2.5zM868.46 679.00h2.5V689.00h-2.5zM896.24 625.00h2.5V647.00h-2.5zM904.58 629.00h2.5V636.00h-2.5zM907.36 636.00h2.5V639.00h-2.5zM910.13 638.00h2.5V640.00h-2.5zM912.91 639.00h2.5V647.00h-2.5zM921.25 636.00h2.5V641.00h-2.5zM924.03 641.00h2.5V667.00h-2.5zM926.80 667.00h2.5V674.00h-2.5zM937.92 658.00h2.5V666.00h-2.5zM949.03 655.00h2.5V656.00h-2.5zM951.81 656.00h2.5V661.00h-2.5zM954.59 661.00h2.5V671.00h-2.5zM960.14 662.00h2.5V665.00h-2.5zM962.92 665.00h2.5V674.00h-2.5zM968.48 669.00h2.5V672.00h-2.5zM976.81 663.00h2.5V667.00h-2.5zM982.37 653.00h2.5V660.00h-2.5zM987.92 648.00h2.5V659.00h-2.5zM996.26 656.00h2.5V659.00h-2.5zM1001.82 657.00h2.5V659.00h-2.5zM1007.37 657.00h2.5V661.00h-2.5zM1012.93 659.00h2.5V681.00h-2.5zM1018.48 674.00h2.5V675.00h-2.5zM1021.26 674.00h2.5V677.00h-2.5zM1032.38 673.00h2.5V677.00h-2.5zM1035.15 677.00h2.5V682.00h-2.5zM1040.71 680.00h2.5V683.00h-2.5zM1046.27 678.00h2.5V680.00h-2.5zM1049.05 679.00h2.5V687.00h-2.5zM1051.82 687.00h2.5V690.00h-2.5zM1057.38 688.00h2.5V699.00h-2.5zM1065.71 695.00h2.5V699.00h-2.5zM1071.27 696.00h2.5V699.00h-2.5zM1079.61 695.00h2.5V697.00h-2.5zM1085.16 679.00h2.5V684.00h-2.5zM1090.72 656.00h2.5V660.00h-2.5zM1093.50 660.00h2.5V665.00h-2.5zM1101.83 662.00h2.5V666.00h-2.5zM1107.39 665.00h2.5V668.00h-2.5zM1110.17 668.00h2.5V671.00h-2.5zM1112.94 670.00h2.5V671.00h-2.5zM1121.28 663.00h2.5V670.00h-2.5zM1132.39 651.00h2.5V657.00h-2.5z" fill="#0d0d0d"/>
<path d="M1536.6 38V887" stroke="#50535b" stroke-width="1.2"/>
<path d="M6 861.5H1594" stroke="#50535b" stroke-width="1"/>
<path d="M1537 180.0h4" stroke="#8b8e96" stroke-width="1"/>
<path d="M1537 208.4h4" stroke="#8b8e96" stroke-width="1"/>
<path d="M1537 236.9h4" stroke="#8b8e96" stroke-width="1"/>
<path d="M1537 265.3h4" stroke="#8b8e96" stroke-width="1"/>
<path d="M1537 293.7h4" stroke="#8b8e96" stroke-width="1"/>
<path d="M1537 322.2h4" stroke="#8b8e96" stroke-width="1"/>
<path d="M1537 350.6h4" stroke="#8b8e96" stroke-width="1"/>
<path d="M1537 379.0h4" stroke="#8b8e96" stroke-width="1"/>
<path d="M1537 407.5h4" stroke="#8b8e96" stroke-width="1"/>
<path d="M1537 435.9h4" stroke="#8b8e96" stroke-width="1"/>
<path d="M1537 464.3h4" stroke="#8b8e96" stroke-width="1"/>
<path d="M1537 492.8h4" stroke="#8b8e96" stroke-width="1"/>
<path d="M1537 521.2h4" stroke="#8b8e96" stroke-width="1"/>
<path d="M1537 549.7h4" stroke="#8b8e96" stroke-width="1"/>
<path d="M1537 578.1h4" stroke="#8b8e96" stroke-width="1"/>
<path d="M1537 606.5h4" stroke="#8b8e96" stroke-width="1"/>
<path d="M1537 635.0h4" stroke="#8b8e96" stroke-width="1"/>
<path d="M1537 663.4h4" stroke="#8b8e96" stroke-width="1"/>
<path d="M1537 691.8h4" stroke="#8b8e96" stroke-width="1"/>
<path d="M1537 720.3h4" stroke="#8b8e96" stroke-width="1"/>
<path d="M1537 748.7h4" stroke="#8b8e96" stroke-width="1"/>
<path d="M1537 777.1h4" stroke="#8b8e96" stroke-width="1"/>
<path d="M1537 805.6h4" stroke="#8b8e96" stroke-width="1"/>
<path d="M1537 834.0h4" stroke="#8b8e96" stroke-width="1"/>
<path d="M1537 51.8h4" stroke="#8b8e96" stroke-width="1"/>
<path d="M1537 82.3h4" stroke="#8b8e96" stroke-width="1"/>
<path d="M1537 112.6h4" stroke="#8b8e96" stroke-width="1"/>
<path d="M1537 142.8h4" stroke="#8b8e96" stroke-width="1"/>
<g font-family="Liberation Sans, sans-serif" font-size="10.3" fill="#9a9da5"><text x="1544.8" y="184.3" textLength="36.8" lengthAdjust="spacingAndGlyphs">0.54000</text><text x="1544.8" y="212.7" textLength="36.8" lengthAdjust="spacingAndGlyphs">0.52000</text><text x="1544.8" y="241.2" textLength="36.8" lengthAdjust="spacingAndGlyphs">0.50000</text><text x="1544.8" y="269.6" textLength="36.8" lengthAdjust="spacingAndGlyphs">0.48000</text><text x="1544.8" y="298.0" textLength="36.8" lengthAdjust="spacingAndGlyphs">0.46000</text><text x="1544.8" y="326.5" textLength="36.8" lengthAdjust="spacingAndGlyphs">0.44000</text><text x="1544.8" y="354.9" textLength="36.8" lengthAdjust="spacingAndGlyphs">0.42000</text><text x="1544.8" y="383.3" textLength="36.8" lengthAdjust="spacingAndGlyphs">0.40000</text><text x="1544.8" y="411.8" textLength="36.8" lengthAdjust="spacingAndGlyphs">0.38000</text><text x="1544.8" y="440.2" textLength="36.8" lengthAdjust="spacingAndGlyphs">0.36000</text><text x="1544.8" y="468.6" textLength="36.8" lengthAdjust="spacingAndGlyphs">0.34000</text><text x="1544.8" y="497.1" textLength="36.8" lengthAdjust="spacingAndGlyphs">0.32000</text><text x="1544.8" y="525.5" textLength="36.8" lengthAdjust="spacingAndGlyphs">0.30000</text><text x="1544.8" y="554.0" textLength="36.8" lengthAdjust="spacingAndGlyphs">0.28000</text><text x="1544.8" y="582.4" textLength="36.8" lengthAdjust="spacingAndGlyphs">0.26000</text><text x="1544.8" y="610.8" textLength="36.8" lengthAdjust="spacingAndGlyphs">0.24000</text><text x="1544.8" y="639.3" textLength="36.8" lengthAdjust="spacingAndGlyphs">0.22000</text><text x="1544.8" y="667.7" textLength="36.8" lengthAdjust="spacingAndGlyphs">0.20000</text><text x="1544.8" y="696.1" textLength="36.8" lengthAdjust="spacingAndGlyphs">0.18000</text><text x="1544.8" y="724.6" textLength="36.8" lengthAdjust="spacingAndGlyphs">0.16000</text><text x="1544.8" y="753.0" textLength="36.8" lengthAdjust="spacingAndGlyphs">0.14000</text><text x="1544.8" y="781.4" textLength="36.8" lengthAdjust="spacingAndGlyphs">0.12000</text><text x="1544.8" y="809.9" textLength="36.8" lengthAdjust="spacingAndGlyphs">0.10000</text><text x="1544.8" y="838.3" textLength="36.8" lengthAdjust="spacingAndGlyphs">0.08000</text><text x="1544.5" y="56.0" textLength="25.5" lengthAdjust="spacingAndGlyphs">80.00</text><text x="1544.5" y="86.5" textLength="25.5" lengthAdjust="spacingAndGlyphs">60.00</text><text x="1544.5" y="116.8" textLength="25.5" lengthAdjust="spacingAndGlyphs">40.00</text><text x="1544.5" y="147.0" textLength="25.5" lengthAdjust="spacingAndGlyphs">20.00</text></g>
<path d="M51.0 862v3" stroke="#8f929a" stroke-width="1"/>
<path d="M138.0 862v3" stroke="#8f929a" stroke-width="1"/>
<path d="M224.0 862v3" stroke="#8f929a" stroke-width="1"/>
<path d="M308.0 862v3" stroke="#8f929a" stroke-width="1"/>
<path d="M394.0 862v3" stroke="#8f929a" stroke-width="1"/>
<path d="M477.0 862v3" stroke="#8f929a" stroke-width="1"/>
<path d="M564.5 862v3" stroke="#8f929a" stroke-width="1"/>
<path d="M650.0 862v3" stroke="#8f929a" stroke-width="1"/>
<path d="M731.0 862v3" stroke="#8f929a" stroke-width="1"/>
<path d="M816.0 862v3" stroke="#8f929a" stroke-width="1"/>
<path d="M900.0 862v3" stroke="#8f929a" stroke-width="1"/>
<path d="M986.0 862v3" stroke="#8f929a" stroke-width="1"/>
<path d="M1070.0 862v3" stroke="#8f929a" stroke-width="1"/>
<path d="M1155.5 862v3" stroke="#8f929a" stroke-width="1"/>
<path d="M1241.5 862v3" stroke="#8f929a" stroke-width="1"/>
<path d="M1325.0 862v3" stroke="#8f929a" stroke-width="1"/>
<path d="M1411.5 862v3" stroke="#8f929a" stroke-width="1"/>
<path d="M1495.0 862v3" stroke="#8f929a" stroke-width="1"/>
<g font-family="Liberation Sans, sans-serif" font-size="10.4" fill="#9a9da5"><text x="51.0" y="878.8" text-anchor="middle">Jul</text><text x="138.0" y="878.8" text-anchor="middle">Aug</text><text x="224.0" y="878.8" text-anchor="middle">Sep</text><text x="308.0" y="878.8" text-anchor="middle">Oct</text><text x="394.0" y="878.8" text-anchor="middle">Nov</text><text x="477.0" y="878.8" text-anchor="middle">Dec</text><text x="564.5" y="878.8" text-anchor="middle" fill="#8b8e97" stroke="#8b8e97" stroke-width="0.35" textLength="24" lengthAdjust="spacingAndGlyphs">2020</text><text x="650.0" y="878.8" text-anchor="middle">Feb</text><text x="731.0" y="878.8" text-anchor="middle">Mar</text><text x="816.0" y="878.8" text-anchor="middle">Apr</text><text x="900.0" y="878.8" text-anchor="middle">May</text><text x="986.0" y="878.8" text-anchor="middle">Jun</text><text x="1070.0" y="878.8" text-anchor="middle">Jul</text><text x="1155.5" y="878.8" text-anchor="middle">Aug</text><text x="1241.5" y="878.8" text-anchor="middle">Sep</text><text x="1325.0" y="878.8" text-anchor="middle">Oct</text><text x="1411.5" y="878.8" text-anchor="middle">Nov</text><text x="1495.0" y="878.8" text-anchor="middle">Dec</text></g>
<rect x="1536" y="556.9" width="53.2" height="15.8" fill="#ee0005"/>
<path d="M1537 564.8h4" stroke="#fff" stroke-width="1"/>
<rect x="1536" y="642.0" width="53.2" height="15.7" fill="#ee0005"/>
<path d="M1537 649.9h4" stroke="#fff" stroke-width="1"/>
<rect x="1536" y="668.1" width="53.2" height="31.5" fill="#ee0005"/>
<path d="M1537 675.9h4M1537 691.7h4" stroke="#fff" stroke-width="1"/>
<rect x="1536.4" y="598.7" width="52.3" height="15" fill="#565a62" stroke="#3f434b" stroke-dasharray="1 1"/>
<rect x="1536.4" y="615.9" width="52.3" height="16" fill="#565a62" stroke="#3f434b" stroke-dasharray="1 1"/>
<path d="M1537 606.3h4" stroke="#fff" stroke-width="1"/>
<g font-family="Liberation Sans, sans-serif" font-size="10.3" font-weight="bold" fill="#fff"><text x="1544.8" y="568.6" textLength="36.8" lengthAdjust="spacingAndGlyphs">0.26939</text><text x="1544.8" y="610.1" textLength="36.8" lengthAdjust="spacingAndGlyphs">0.24064</text><text x="1544.8" y="653.7" textLength="36.8" lengthAdjust="spacingAndGlyphs">0.20969</text><text x="1544.8" y="679.7" textLength="36.8" lengthAdjust="spacingAndGlyphs">0.19123</text><text x="1544.8" y="696.0" textLength="36.8" lengthAdjust="spacingAndGlyphs">0.18384</text><text x="1541" y="628" textLength="42.5" lengthAdjust="spacingAndGlyphs">09:54:48</text></g>
<g font-family="Liberation Sans, sans-serif" font-size="12.3" font-style="italic" fill="#2c5f9e"><text x="1064" y="539.5" textLength="144" lengthAdjust="spacingAndGlyphs">Next hurdle of resistance.</text><text x="1242" y="639.7" textLength="209.5" lengthAdjust="spacingAndGlyphs">Break above 100-Day and 200-Day MA.</text><text x="1080.6" y="737.3" textLength="152.5" lengthAdjust="spacingAndGlyphs">First Higher Low in a while.</text></g>
<g font-family="Liberation Sans, sans-serif" font-size="11.5" fill="#e6e8ec"><text x="5" y="15.3" textLength="365" lengthAdjust="spacingAndGlyphs"><tspan font-weight="bold" fill="#fff">CryptoMichNL</tspan> published on TradingView.com, July 29, 2020 14:05:13 UTC</text><text x="5" y="30" textLength="118" lengthAdjust="spacingAndGlyphs" font-weight="bold" fill="#fff">BINANCE:XRPUSDT, 1D</text><text x="127" y="30" textLength="40" lengthAdjust="spacingAndGlyphs">0.24064</text><path d="M169.600 30l4.650-8.200 4.650 8.200z" fill="#3f87c9"/><text x="182" y="30" textLength="92.5" lengthAdjust="spacingAndGlyphs">+0.01035 (+4.49%)</text><text x="278.5" y="30" textLength="11.5" lengthAdjust="spacingAndGlyphs" font-weight="bold" fill="#fff">O:</text><text x="290.5" y="30" textLength="40" lengthAdjust="spacingAndGlyphs" fill="#4a86c5">0.23031</text><text x="334.5" y="30" textLength="11.5" lengthAdjust="spacingAndGlyphs" font-weight="bold" fill="#fff">H:</text><text x="346.5" y="30" textLength="40" lengthAdjust="spacingAndGlyphs" fill="#4a86c5">0.24414</text><text x="390.5" y="30" textLength="9.5" lengthAdjust="spacingAndGlyphs" font-weight="bold" fill="#fff">L:</text><text x="400.5" y="30" textLength="40" lengthAdjust="spacingAndGlyphs" fill="#4a86c5">0.22919</text><text x="444" y="30" textLength="10.5" lengthAdjust="spacingAndGlyphs" font-weight="bold" fill="#fff">C:</text><text x="454.5" y="30" textLength="40" lengthAdjust="spacingAndGlyphs" fill="#4a86c5">0.24064</text></g>
<path d="M8.5 910.9C6 910.9 4.6 908.8 4.7 906.3C4.8 903.8 6.8 902 9 901.6C10 898.6 12.5 896.2 15.5 896.2C18 896.200 20.100 897.600 21.100 899.800C24.600 899.300 28.200 902 28.200 906C28.200 908.800 26.500 910.900 24 910.900Z" fill="#0a0c12"/>
<path d="M8.5 910C6 910 4.6 908 4.7 905.5C4.8 903 6.8 901.3 9 900.9C10 897.900 12.500 895.700 15.500 895.700C18 895.700 20.100 897.100 21.100 899.200C24.600 898.700 28.200 901.400 28.200 905.400C28.200 908.100 26.500 910 24 910Z" fill="#52a0e6"/>
<path d="M8.300 905.500L13.600 901.100L19.500 906.200L23.500 902.500" stroke="#1a2233" stroke-width="1.100" fill="none"/>
<circle cx="13.700" cy="901.200" r="1.100" fill="#10141f"/><circle cx="19.500" cy="906.100" r="1.300" fill="#0c1018"/>
<text x="29.400" y="906.800" font-family="Liberation Sans, sans-serif" font-size="11.8" fill="#eceef2" stroke="#eceef2" stroke-width="0.25" textLength="62.5" lengthAdjust="spacingAndGlyphs">TradingView</text>
</svg></body></html>
